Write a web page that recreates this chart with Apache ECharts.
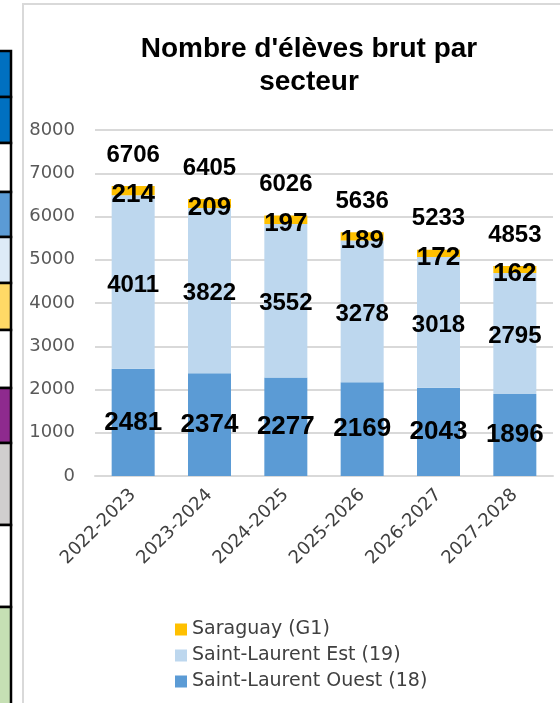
<!DOCTYPE html>
<html>
<head>
<meta charset="utf-8">
<title>Nombre d'élèves brut par secteur</title>
<script src="https://cdn.jsdelivr.net/npm/echarts@6/dist/echarts.min.js"></script>
<style>
  html, body { margin: 0; padding: 0; background: #fff; }
  #chart { width: 560px; height: 703px; }
</style>
</head>
<body>
<div id="chart"></div>
<script>
// années scolaires
var annees = ['2022-2023', '2023-2024', '2024-2025', '2025-2026', '2026-2027', '2027-2028'];
// élèves par secteur
var ouest = [2481, 2374, 2277, 2169, 2043, 1896];
var est = [4011, 3822, 3552, 3278, 3018, 2795];
var saraguay = [214, 209, 197, 189, 172, 162];
// total affiché au-dessus des barres
var totaux = [6706, 6405, 6026, 5636, 5233, 4853];

var nomOuest = 'Saint-Laurent Ouest (18)';
var nomEst = 'Saint-Laurent Est (19)';
var nomSaraguay = 'Saraguay (G1)';

var numFont = '"Liberation Sans", Arial, sans-serif';
var txtFont = '"DejaVu Sans", sans-serif';

// bout du tableau voisin, coupé à gauche de l'image
var bande = [
  [51, 97, '#0070c0'], [97, 143, '#0070c0'], [143, 192, '#ffffff'],
  [192, 237, '#5b9bd5'], [237, 283, '#ddebf7'], [283, 330, '#ffd966'],
  [330, 388, '#ffffff'], [388, 443, '#8e2a8e'], [443, 525, '#d0cece'],
  [525, 607, '#ffffff'], [607, 720, '#c6e0b4']
];
var graphics = [{
  type: 'rect', shape: {x: 23, y: 4, width: 600, height: 760},
  style: {fill: 'none', stroke: '#d9d9d9', lineWidth: 2}, silent: true
}];
bande.forEach(function (c) {
  graphics.push({type: 'rect', shape: {x: -2, y: c[0], width: 13, height: c[1] - c[0]},
    style: {fill: c[2], stroke: '#000', lineWidth: 2.5}, silent: true});
});

var chart = echarts.init(document.getElementById('chart'));
chart.setOption({
  animation: false,
  backgroundColor: '#fff',
  graphic: graphics,
  title: {
    text: "Nombre d'élèves brut par\nsecteur",
    left: 304,
    textAlign: 'center',
    top: 28,
    textStyle: {fontFamily: numFont, fontSize: 28, fontWeight: 'bold', color: '#000', lineHeight: 33}
  },
  legend: {
    data: [nomSaraguay, nomEst, nomOuest],
    orient: 'vertical',
    left: 170,
    top: 615,
    itemWidth: 12,
    itemHeight: 12,
    itemGap: 7,
    icon: 'rect',
    textStyle: {fontFamily: txtFont, fontSize: 19, color: '#404040', lineHeight: 19}
  },
  grid: {left: 95, right: 7, top: 130, bottom: 227},
  xAxis: {
    type: 'category',
    data: annees,
    axisLine: {lineStyle: {color: '#d9d9d9', width: 2}},
    axisTick: {show: false},
    axisLabel: {rotate: 45, margin: 16, fontFamily: txtFont, fontSize: 18, color: '#404040'}
  },
  yAxis: {
    type: 'value',
    min: 0,
    max: 8000,
    interval: 1000,
    axisLine: {show: false},
    axisTick: {show: false},
    splitLine: {lineStyle: {color: '#d9d9d9', width: 2}},
    axisLabel: {
      margin: 20, fontFamily: txtFont, fontSize: 18, color: '#595959',
      formatter: function (v) { return String(v); }
    }
  },
  series: [
    {
      name: nomOuest,
      type: 'bar',
      stack: 'total',
      barWidth: 43,
      data: ouest,
      itemStyle: {color: '#5b9bd5'},
      label: {show: true, position: 'inside', fontFamily: numFont, fontSize: 26, fontWeight: 'bold', color: '#000'}
    },
    {
      name: nomEst,
      type: 'bar',
      stack: 'total',
      data: est,
      itemStyle: {color: '#bdd7ee'},
      label: {show: true, position: 'inside', offset: [0, 3], fontFamily: numFont, fontSize: 24, fontWeight: 'bold', color: '#000'}
    },
    {
      name: nomSaraguay,
      type: 'bar',
      stack: 'total',
      data: saraguay,
      itemStyle: {color: '#ffc000'},
      label: {show: true, position: 'inside', offset: [0, 4], fontFamily: numFont, fontSize: 26, fontWeight: 'bold', color: '#000'}
    },
    {
      name: 'Total',
      type: 'scatter',
      data: totaux,
      symbolSize: 0,
      silent: true,
      itemStyle: {opacity: 1},
      label: {show: true, position: 'top', distance: 19, fontFamily: numFont, fontSize: 24, fontWeight: 'bold', color: '#000'}
    }
  ]
});
</script>
</body>
</html>
